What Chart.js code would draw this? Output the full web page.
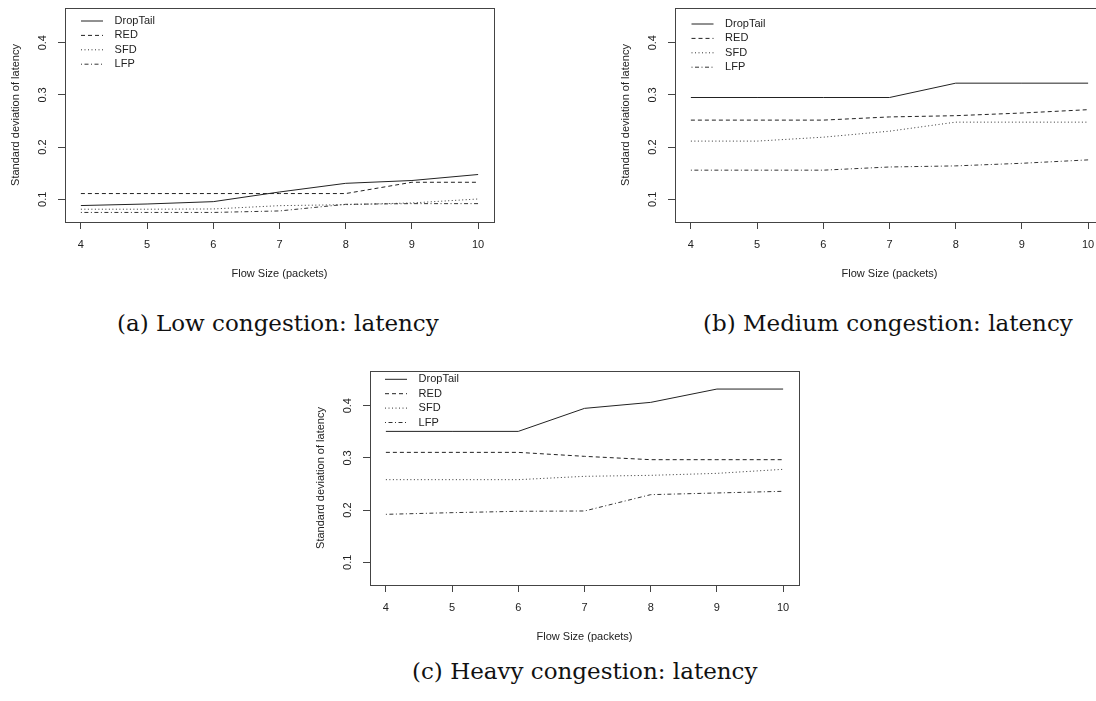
<!DOCTYPE html>
<html>
<head>
<meta charset="utf-8">
<script src="https://cdn.jsdelivr.net/npm/chart.js@4.4.1/dist/chart.umd.min.js"></script>
<style>
html,body{margin:0;padding:0;background:#fff;overflow:hidden;width:1096px;height:701px;}
.panel{position:absolute;width:500px;height:290px;}
.cap{position:absolute;font-family:"DejaVu Serif",serif;font-size:23px;line-height:23px;color:#111;white-space:nowrap;}
</style>
</head>
<body>
<canvas id="cA" class="panel" width="500" height="290" style="left:0px;top:0px"></canvas>
<canvas id="cB" class="panel" width="500" height="290" style="left:610px;top:0px"></canvas>
<canvas id="cC" class="panel" width="500" height="290" style="left:305px;top:363px"></canvas>
<div id="capA" class="cap" style="left:117px;top:312px"></div>
<div id="capB" class="cap" style="left:703px;top:312px"></div>
<div id="capC" class="cap" style="left:412px;top:660px"></div>
<script>
// ---- data ----
const flowSizes = [4, 5, 6, 7, 8, 9, 10];
const xTickValues = [4, 5, 6, 7, 8, 9, 10];
const xTickLabels = ['4', '5', '6', '7', '8', '9', '10'];
const yTickValues = [0.1, 0.2, 0.3, 0.4];
const yTickLabels = ['0.1', '0.2', '0.3', '0.4'];
const seriesNames = ['DropTail', 'RED', 'SFD', 'LFP'];
const xAxisTitle = 'Flow Size (packets)';
const yAxisTitle = 'Standard deviation of latency';
const captions = ['(a) Low congestion: latency', '(b) Medium congestion: latency', '(c) Heavy congestion: latency'];

const lowDropTail = [0.088, 0.091, 0.0955, 0.114, 0.1306, 0.136, 0.1475];
const lowRED      = [0.111, 0.111, 0.111, 0.111, 0.111, 0.1326, 0.1326];
const lowSFD      = [0.081, 0.081, 0.0815, 0.0878, 0.0897, 0.093, 0.1006];
const lowLFP      = [0.0748, 0.0748, 0.0748, 0.0777, 0.0904, 0.0917, 0.0917];

const medDropTail = [0.295, 0.295, 0.295, 0.295, 0.3225, 0.3225, 0.3225];
const medRED      = [0.2517, 0.2517, 0.2517, 0.2578, 0.2602, 0.2653, 0.2717];
const medSFD      = [0.2115, 0.2115, 0.219, 0.2305, 0.2478, 0.2478, 0.2478];
const medLFP      = [0.1558, 0.1558, 0.1558, 0.1619, 0.164, 0.169, 0.1755];

const heavyDropTail = [0.3508, 0.3508, 0.3508, 0.3949, 0.4064, 0.4319, 0.4319];
const heavyRED      = [0.3106, 0.3106, 0.3106, 0.303, 0.2966, 0.2966, 0.2966];
const heavySFD      = [0.2583, 0.2583, 0.2583, 0.2647, 0.2666, 0.2704, 0.2781];
const heavyLFP      = [0.1919, 0.1951, 0.1977, 0.1983, 0.2296, 0.2328, 0.2360];

// ---- styles ----
const dashes = [[], [4, 3], [1, 2.5], [1, 2.5, 4, 2.5]];
const lineColors = ['#222', '#222', '#333', '#333'];
const sansFont = {family: '"Liberation Sans", Arial, sans-serif', size: 11};

const boxPlugin = {
  id: 'plotBox',
  afterDatasetsDraw(chart) {
    const {ctx, chartArea: {left, top, right, bottom}} = chart;
    ctx.save();
    ctx.strokeStyle = '#444';
    ctx.lineWidth = 1;
    ctx.setLineDash([]);
    ctx.strokeRect(Math.floor(left) + 0.5, Math.floor(top) + 0.5, Math.round(right - left), Math.round(bottom - top));
    ctx.restore();
  }
};

const legendShift = {
  id: 'legendShift',
  afterLayout(chart, args, opts) {
    const l = chart.legend;
    if (!l) return;
    const ca = chart.chartArea;
    const pad = l.options.labels.padding;
    l.left = ca.left + opts.dx - pad;
    l.top = ca.top + opts.dy - pad;
    l.right = l.left + l.width;
    l.bottom = ca.bottom;
  }
};

function legendLabels(chart) {
  const items = Chart.defaults.plugins.legend.labels.generateLabels(chart);
  items.forEach(it => {
    const ds = chart.data.datasets[it.datasetIndex];
    it.lineDash = ds.borderDash;
    it.strokeStyle = ds.borderColor;
    it.fillStyle = ds.borderColor;
    it.lineWidth = ds.borderWidth;
    it.pointStyle = 'line';
  });
  return items;
}

function noPad(s) { s.paddingTop = 0; s.paddingBottom = 0; s.paddingLeft = 0; s.paddingRight = 0; }

function makeChart(id, series, legendDx, legendDy) {
  const ctx = document.getElementById(id);
  return new Chart(ctx, {
    type: 'line',
    data: {
      datasets: seriesNames.map((name, i) => ({
        label: '  ' + name,
        data: flowSizes.map((x, j) => ({x: x, y: series[i][j]})),
        borderColor: lineColors[i],
        backgroundColor: lineColors[i],
        borderWidth: 1,
        borderDash: dashes[i],
        pointRadius: 0,
        pointHoverRadius: 0,
        tension: 0,
        fill: false
      }))
    },
    options: {
      responsive: false,
      animation: false,
      devicePixelRatio: 1,
      events: [],
      layout: {padding: {left: 0, top: 8, right: 6, bottom: 0}},
      scales: {
        x: {
          type: 'linear', min: 3.76, max: 10.24,
          afterBuildTicks: s => { s.ticks = xTickValues.map(v => ({value: v})); },
          afterFit: s => { s.height = 68; noPad(s); },
          grid: {display: true, drawOnChartArea: false, drawTicks: true, tickLength: 7, color: '#444', lineWidth: 1},
          border: {display: false},
          ticks: {
            padding: 9, color: '#222', font: sansFont, maxRotation: 0, autoSkip: false,
            callback: v => { const i = xTickValues.indexOf(v); return i >= 0 ? xTickLabels[i] : ''; }
          },
          title: {display: true, text: xAxisTitle, color: '#222', font: sansFont, padding: {top: 0, bottom: 9.4}}
        },
        y: {
          type: 'linear', min: 0.0565, max: 0.4665,
          afterBuildTicks: s => { s.ticks = yTickValues.map(v => ({value: v})); },
          afterFit: s => { s.width = 65; noPad(s); },
          grid: {display: true, drawOnChartArea: false, drawTicks: true, tickLength: 7, color: '#444', lineWidth: 1},
          border: {display: false},
          ticks: {
            padding: 7, color: '#222', font: sansFont, minRotation: 90, maxRotation: 90, crossAlign: 'center', autoSkip: false,
            callback: v => { const i = yTickValues.indexOf(v); return i >= 0 ? yTickLabels[i] : ''; }
          },
          title: {display: true, text: yAxisTitle, color: '#222', font: sansFont, padding: {top: 9.4, bottom: 0}}
        }
      },
      plugins: {
        legend: {
          position: 'chartArea', align: 'start',
          labels: {usePointStyle: true, pointStyle: 'line', pointStyleWidth: 22, padding: 3.4, color: '#222', font: sansFont, generateLabels: legendLabels}
        },
        tooltip: {enabled: false},
        legendShift: {dx: legendDx, dy: legendDy}
      }
    },
    plugins: [boxPlugin, legendShift]
  });
}

makeChart('cA', [lowDropTail, lowRED, lowSFD, lowLFP], 16, 7.5);
makeChart('cB', [medDropTail, medRED, medSFD, medLFP], 16.5, 10.5);
makeChart('cC', [heavyDropTail, heavyRED, heavySFD, heavyLFP], 15, 2.8);

document.getElementById('capA').textContent = captions[0];
document.getElementById('capB').textContent = captions[1];
document.getElementById('capC').textContent = captions[2];
</script>
</body>
</html>
